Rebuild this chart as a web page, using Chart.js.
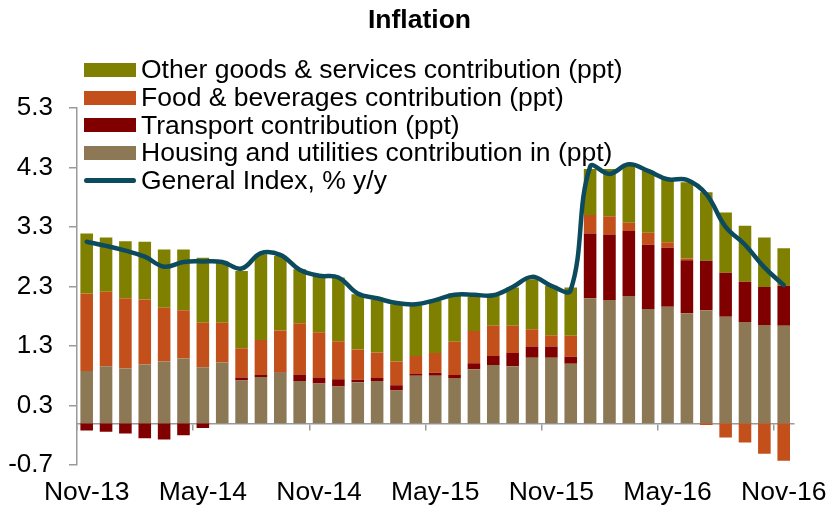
<!DOCTYPE html>
<html>
<head>
<meta charset="utf-8">
<script src="https://cdn.jsdelivr.net/npm/chart.js@4.4.1/dist/chart.umd.min.js"></script>
<style>
  body { margin: 0; background: #fff; }
  #wrap { position: relative; width: 839px; height: 512px; }
  #legend {
    position: absolute; left: 84px; top: 56px;
    font: 26.5px "Liberation Sans", Arial, sans-serif; color: #000;
  }
  .item { display: flex; align-items: center; height: 27.7px; white-space: nowrap; }
  .swatch { width: 52px; height: 14px; margin-right: 5px; flex: none; }
  .swatch.line { height: 5px; border-radius: 3px; }
</style>
</head>
<body>
<div id="wrap">
  <canvas id="inflationChart" width="839" height="512"></canvas>
  <div id="legend"></div>
</div>
<script>
const months = ['Nov-13', 'Dec-13', 'Jan-14', 'Feb-14', 'Mar-14', 'Apr-14', 'May-14', 'Jun-14', 'Jul-14', 'Aug-14',
  'Sep-14', 'Oct-14', 'Nov-14', 'Dec-14', 'Jan-15', 'Feb-15', 'Mar-15', 'Apr-15', 'May-15', 'Jun-15',
  'Jul-15', 'Aug-15', 'Sep-15', 'Oct-15', 'Nov-15', 'Dec-15', 'Jan-16', 'Feb-16', 'Mar-16', 'Apr-16',
  'May-16', 'Jun-16', 'Jul-16', 'Aug-16', 'Sep-16', 'Oct-16', 'Nov-16'];

// contributions in ppt
const housing = [0.88, 0.96, 0.92, 0.99, 1.04, 1.09, 0.94, 1.02, 0.72, 0.78, 0.85, 0.71, 0.67, 0.62, 0.69, 0.71,
  0.55, 0.80, 0.80, 0.76, 0.91, 0.98, 0.96, 1.10, 1.10, 1.00, 2.10, 2.07, 2.14, 1.92, 1.96, 1.85, 1.90, 1.79,
  1.70, 1.65, 1.64];
const transport = [-0.12, -0.14, -0.17, -0.25, -0.27, -0.20, -0.08, 0, 0.05, 0.03, 0.01, 0.11, 0.10, 0.12, 0.04,
  0.05, 0.09, 0.03, 0.05, 0.05, 0.10, 0.15, 0.22, 0.19, 0.19, 0.12, 1.09, 1.10, 1.09, 1.08, 0.99, 0.89, 0.83,
  0.74, 0.68, 0.64, 0.67];
const food = [1.30, 1.25, 1.18, 1.09, 0.90, 0.81, 0.75, 0.67, 0.49, 0.59, 0.70, 0.86, 0.76, 0.64, 0.51, 0.43,
  0.40, 0.30, 0.33, 0.56, 0.54, 0.51, 0.46, 0.29, 0.19, 0.35, 0.31, 0.31, 0.14, 0.20, 0.09, 0.03, -0.03, -0.24,
  -0.32, -0.51, -0.63];
const other = [1.01, 0.91, 0.96, 0.97, 0.98, 1.02, 1.09, 1.03, 1.30, 1.44, 1.25, 0.91, 0.96, 1.07, 0.93, 0.89,
  0.96, 0.85, 0.88, 0.81, 0.57, 0.50, 0.64, 0.84, 0.83, 0.81, 0.77, 0.79, 0.99, 1.04, 1.07, 1.28, 1.15, 1.01,
  0.94, 0.83, 0.63];
// % y/y
const generalIndex = [3.05, 2.98, 2.90, 2.80, 2.63, 2.71, 2.72, 2.71, 2.60, 2.86, 2.83, 2.58, 2.48, 2.45, 2.18,
  2.10, 2.02, 2.00, 2.07, 2.16, 2.16, 2.15, 2.29, 2.46, 2.31, 2.24, 4.31, 4.19, 4.35, 4.24, 4.10, 4.09, 3.85,
  3.30, 3.00, 2.62, 2.32];

const FONT = '"Liberation Sans", Arial, sans-serif';
const AXIS_GREY = '#9a9a9a';

document.addEventListener('DOMContentLoaded', () => {
  const ctx = document.getElementById('inflationChart').getContext('2d');

  const bar = (label, data, color) => ({
    type: 'bar', label, data, backgroundColor: color, borderWidth: 0,
    barPercentage: 0.65, categoryPercentage: 1.0, order: 1
  });

  const chart = new Chart(ctx, {
    data: {
      labels: months,
      datasets: [
        {
          type: 'line', label: 'General Index, % y/y', data: generalIndex,
          borderColor: '#0c4a5e', backgroundColor: '#0c4a5e', borderWidth: 4.5,
          pointRadius: 0, tension: 0.4, borderCapStyle: 'round', stack: 'line', order: 0
        },
        bar('Housing and utilities contribution in (ppt)', housing, '#8c7854'),
        bar('Transport contribution (ppt)', transport, '#800000'),
        bar('Food & beverages contribution (ppt)', food, '#c3501a'),
        bar('Other goods & services contribution (ppt)', other, '#808000')
      ]
    },
    options: {
      responsive: false,
      animation: false,
      layout: { padding: 0 },
      plugins: {
        legend: { display: false },
        tooltip: { enabled: false },
        title: {
          display: true,
          text: 'Inflation',
          color: '#000',
          font: { family: FONT, size: 26.5, weight: 'bold' },
          padding: { top: 5, bottom: 71 }
        }
      },
      scales: {
        x: {
          stacked: true,
          offset: true,
          grid: { display: false, drawTicks: false },
          border: { display: false },
          ticks: {
            autoSkip: false, maxRotation: 0, minRotation: 0, padding: 12,
            color: '#000', font: { family: FONT, size: 26.5 },
            callback: (v, i) => (i % 6 === 0 ? months[i] : '')
          },
          afterFit: (s) => { s.height = 47; }
        },
        // horizontal axis line crossing at zero, with tick marks every 6 months
        x2: {
          type: 'category',
          position: { y: 0 },
          offset: true,
          ticks: { display: false },
          grid: {
            offset: true, drawOnChartArea: false, drawTicks: true, tickLength: 6, lineWidth: 1.5,
            color: (c) => (c.index % 6 === 0 ? AXIS_GREY : 'rgba(0,0,0,0)')
          },
          border: { display: true, color: AXIS_GREY, width: 1.5 }
        },
        y: {
          stacked: true,
          min: -0.7,
          max: 5.3,
          ticks: {
            stepSize: 1, padding: 16, color: '#000', font: { family: FONT, size: 26 },
            callback: (v) => Number(v).toFixed(1)
          },
          grid: { drawOnChartArea: false, drawTicks: true, tickLength: 8, color: AXIS_GREY, lineWidth: 1.5 },
          border: { display: true, color: AXIS_GREY, width: 1.5 },
          afterFit: (s) => { s.width = 77; }
        },
        // empty right-hand gutter so the title stays centred on the whole canvas
        gutter: {
          type: 'linear',
          position: 'right',
          ticks: { display: false },
          grid: { display: false },
          border: { display: false },
          afterFit: (s) => { s.width = 42; }
        }
      }
    }
  });

  // legend inside the plot area, in the original order
  const legendOrder = [4, 3, 2, 1, 0];
  const legendEl = document.getElementById('legend');
  legendOrder.forEach((i) => {
    const ds = chart.data.datasets[i];
    const row = document.createElement('div');
    row.className = 'item';
    const sw = document.createElement('span');
    sw.className = ds.type === 'line' ? 'swatch line' : 'swatch';
    sw.style.background = ds.type === 'line' ? ds.borderColor : ds.backgroundColor;
    const txt = document.createElement('span');
    txt.textContent = ds.label;
    row.appendChild(sw);
    row.appendChild(txt);
    legendEl.appendChild(row);
  });
});
</script>
</body>
</html>
